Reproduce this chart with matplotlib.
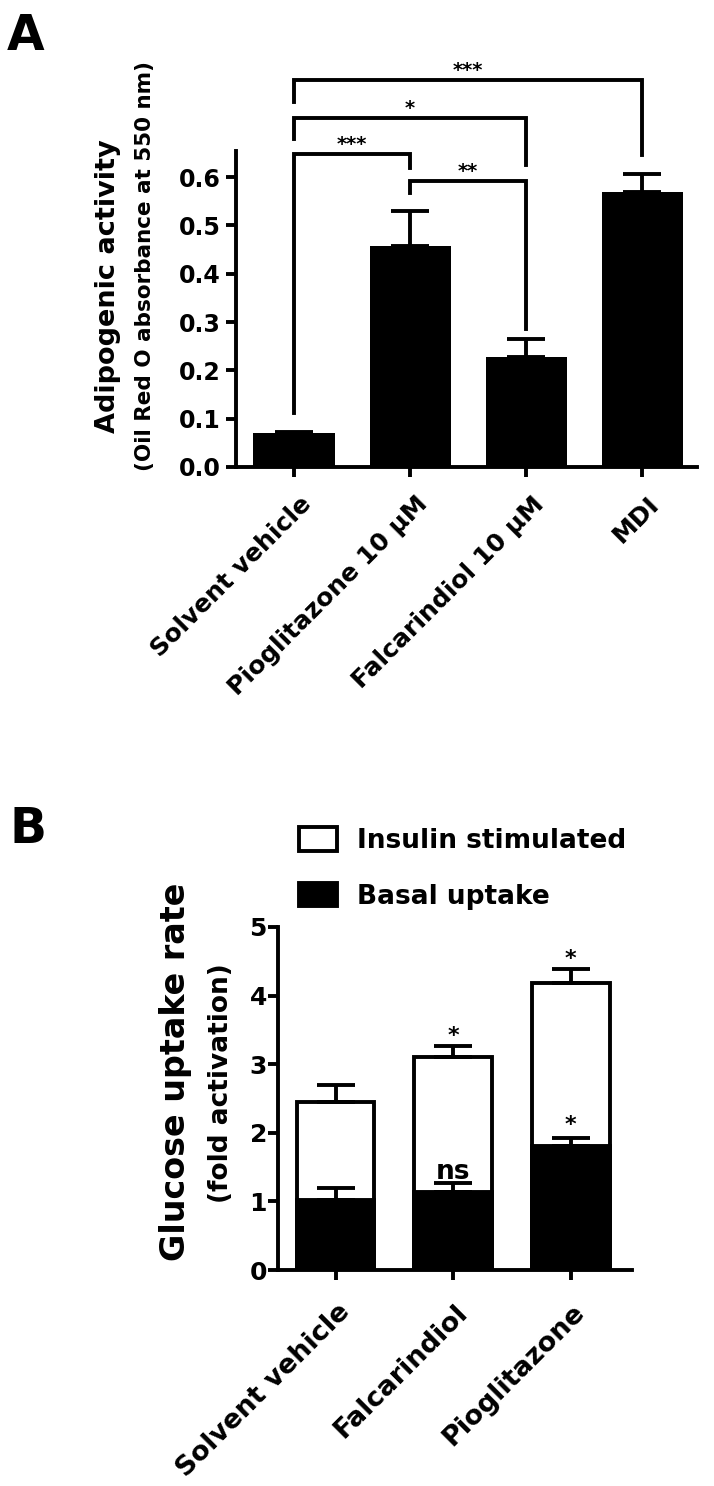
import numpy as np
import matplotlib
matplotlib.use("Agg")
import matplotlib.pyplot as plt
from matplotlib.transforms import ScaledTranslation

# ---------------- Panel A data ----------------
a_categories = ["Solvent vehicle", "Pioglitazone 10 \u03bcM", "Falcarindiol 10 \u03bcM", "MDI"]
a_values = [0.070, 0.458, 0.228, 0.569]
a_errors = [0.002, 0.072, 0.037, 0.038]
a_yticks = [0.0, 0.1, 0.2, 0.3, 0.4, 0.5, 0.6]
a_ytick_labels = ["0.0", "0.1", "0.2", "0.3", "0.4", "0.5", "0.6"]
a_comparisons = [(0, 3, "***"), (0, 2, "*"), (0, 1, "***"), (1, 2, "**")]
a_ylabel_lines = ["Adipogenic activity", "(Oil Red O absorbance at 550 nm)"]

# ---------------- Panel B data ----------------
b_categories = ["Solvent vehicle", "Falcarindiol", "Pioglitazone"]
b_insulin = [2.45, 3.10, 4.19]
b_insulin_err = [0.25, 0.16, 0.20]
b_basal = [1.02, 1.14, 1.81]
b_basal_err = [0.18, 0.13, 0.12]
b_insulin_sig = ["", "*", "*"]
b_basal_sig = ["", "ns", "*"]
b_yticks = [0, 1, 2, 3, 4, 5]
b_ylabel_lines = ["Glucose uptake rate", "(fold activation)"]

# ---------------- layout constants ----------------
# bracket heights (horizontal bar, left leg end, right leg end) in data units
a_bracket_geom = [(0.801, 0.756, 0.645), (0.722, 0.679, 0.625),
                  (0.648, 0.112, 0.619), (0.592, 0.567, 0.286)]

plt.rcParams["font.family"] = ["DejaVu Sans"]
plt.rcParams["font.weight"] = "bold"

W, H = 714, 1486
fig = plt.figure(figsize=(W / 100, H / 100), dpi=100)


def rect(l, r, t, b):
    return [l / W, 1 - b / H, (r - l) / W, (b - t) / H]


def ftext(px, py, s, **kw):
    return fig.text(px / W, 1 - py / H, s, **kw)


LW = 2.8

def style_axes(ax):
    for s in ("top", "right"):
        ax.spines[s].set_visible(False)
    for s in ("left", "bottom"):
        ax.spines[s].set_linewidth(LW)
    ax.tick_params(width=LW, length=7, direction="out")


# ================= Panel A =================
axA = fig.add_axes(rect(236, 697, 151, 467))
xa = np.arange(len(a_categories))
axA.bar(xa, a_values, width=0.7, color="black", edgecolor="black", linewidth=0, zorder=2)
axA.errorbar(xa, a_values, yerr=[np.zeros(len(a_values)), a_errors], fmt="none",
             ecolor="black", elinewidth=LW, capsize=14, capthick=LW, zorder=3)
axA.set_xlim(-0.5, 3.47)
axA.set_ylim(0, 0.654)
axA.set_yticks(a_yticks)
axA.set_yticklabels(a_ytick_labels, fontsize=17, fontweight="bold")
axA.set_xticks(xa)
axA.set_xticklabels(a_categories, fontsize=18, fontweight="bold", rotation=45,
                    ha="right", va="top", rotation_mode="anchor")
style_axes(axA)
axA.tick_params(axis="y", pad=4)
axA.tick_params(axis="x", pad=11)
for lab in axA.get_xticklabels():
    lab.set_transform(lab.get_transform() + ScaledTranslation(5 / 100, 0, fig.dpi_scale_trans))

ftext(108, 286, a_ylabel_lines[0], fontsize=19.5, fontweight="bold", rotation=90,
      ha="center", va="center", rotation_mode="anchor")
ftext(145, 266, a_ylabel_lines[1], fontsize=15.5, fontweight="bold", rotation=90,
      ha="center", va="center", rotation_mode="anchor")

for (i, j, lab), (yb, yl, yr) in zip(a_comparisons, a_bracket_geom):
    axA.plot([xa[i], xa[i], xa[j], xa[j]], [yl, yb, yb, yr], color="black",
             lw=LW, clip_on=False, solid_joinstyle="miter", zorder=4)
    axA.annotate(lab, xy=((xa[i] + xa[j]) / 2, yb), xytext=(0, 3),
                 textcoords="offset points", ha="center", va="baseline",
                 fontsize=14, fontweight="bold", annotation_clip=False)

ftext(7, 50, "A", fontsize=35, fontweight="bold", ha="left", va="baseline")

# ================= Panel B =================
axB = fig.add_axes(rect(278, 632, 927, 1270))
xb = np.arange(len(b_categories))
bw = 0.66
axB.bar(xb, b_insulin, width=bw, color="white", edgecolor="black", linewidth=LW,
        label="Insulin stimulated", zorder=2)
axB.bar(xb, b_basal, width=bw, color="black", edgecolor="black", linewidth=LW,
        label="Basal uptake", zorder=3)
axB.errorbar(xb, b_insulin, yerr=[np.zeros(len(xb)), b_insulin_err], fmt="none",
             ecolor="black", elinewidth=LW, capsize=14, capthick=LW, zorder=4)
axB.errorbar(xb, b_basal, yerr=[np.zeros(len(xb)), b_basal_err], fmt="none",
             ecolor="black", elinewidth=LW, capsize=14, capthick=LW, zorder=4)
axB.set_xlim(-0.49, 2.52)
axB.set_ylim(0, 5)
axB.set_yticks(b_yticks)
axB.set_yticklabels([str(v) for v in b_yticks], fontsize=18, fontweight="bold")
axB.set_xticks(xb)
axB.set_xticklabels(b_categories, fontsize=19.5, fontweight="bold", rotation=45,
                    ha="right", va="top", rotation_mode="anchor")
style_axes(axB)
axB.tick_params(axis="y", pad=1)
axB.tick_params(axis="x", pad=14)
for lab in axB.get_xticklabels():
    lab.set_transform(lab.get_transform() + ScaledTranslation(1 / 100, 0, fig.dpi_scale_trans))

ftext(175, 1072, b_ylabel_lines[0], fontsize=24, fontweight="bold", rotation=90,
      ha="center", va="center", rotation_mode="anchor")
ftext(221, 1083, b_ylabel_lines[1], fontsize=19, fontweight="bold", rotation=90,
      ha="center", va="center", rotation_mode="anchor")

for k in range(len(xb)):
    if b_insulin_sig[k]:
        axB.annotate(b_insulin_sig[k], xy=(xb[k], b_insulin[k] + b_insulin_err[k]),
                     xytext=(0, 3), textcoords="offset points", ha="center",
                     va="baseline", fontsize=16, fontweight="bold")
    if b_basal_sig[k]:
        fs = 19 if b_basal_sig[k] == "ns" else 16
        off = 3 if b_basal_sig[k] == "ns" else 5
        axB.annotate(b_basal_sig[k], xy=(xb[k], b_basal[k] + b_basal_err[k]),
                     xytext=(0, off), textcoords="offset points", ha="center",
                     va="baseline", fontsize=fs, fontweight="bold")

axB.legend(loc="upper left", bbox_to_anchor=(299 / W, 1 - 827 / H),
           bbox_transform=fig.transFigure, frameon=False, fontsize=19,
           handlelength=1.45, handleheight=1.0, handletextpad=0.75,
           labelspacing=1.1, borderpad=0, borderaxespad=0)

ftext(9, 843, "B", fontsize=35, fontweight="bold", ha="left", va="baseline")

fig.savefig("out.png", dpi=100)
